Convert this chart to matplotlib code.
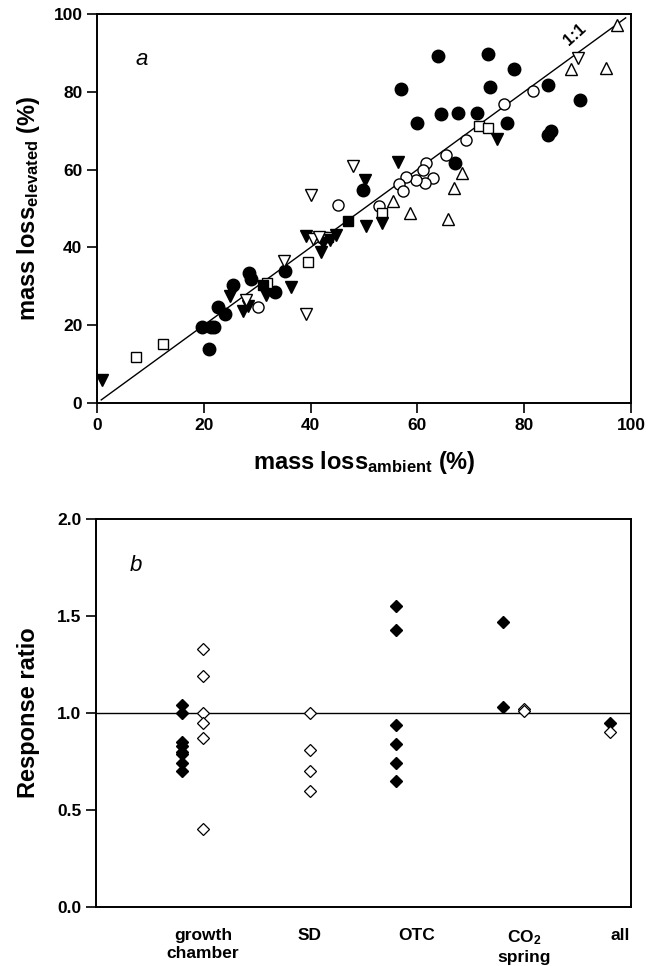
import numpy as np
import matplotlib.pyplot as plt

plt.rcParams['font.family'] = ['Liberation Sans', 'DejaVu Sans']
plt.rcParams['mathtext.default'] = 'regular'

# ---- panel a: mass loss under elevated vs ambient CO2 (%) ----
filled_circle_x = [63.9, 73.3, 78.0, 56.9, 73.6, 84.5, 90.5, 59.9, 64.5, 67.6, 71.2, 76.8,
                   84.5, 85.0, 67.1, 49.8, 35.3, 33.3, 28.5, 28.9, 25.5, 22.6, 23.9, 19.6,
                   21.4, 21.9, 20.9]
filled_circle_y = [89.3, 89.6, 85.9, 80.6, 81.2, 81.8, 77.9, 72.1, 74.3, 74.5, 74.6, 72.1,
                   69.0, 70.0, 61.6, 54.8, 33.9, 28.6, 33.5, 31.8, 30.3, 24.6, 22.9, 19.5,
                   19.6, 19.6, 13.9]

open_circle_x = [81.6, 76.3, 69.1, 65.4, 61.6, 61.0, 62.9, 61.5, 59.8, 57.9, 56.6, 57.4,
                 52.9, 45.1, 30.2]
open_circle_y = [80.3, 76.9, 67.6, 63.8, 61.6, 59.9, 57.8, 56.6, 57.3, 58.2, 56.2, 54.6,
                 50.6, 50.9, 24.6]

open_square_x = [71.6, 73.3, 53.4, 39.6, 42.3, 43.3, 31.9, 12.3, 7.4]
open_square_y = [71.2, 70.6, 48.8, 36.2, 42.7, 42.7, 30.8, 15.2, 11.9]

filled_square_x = [47.0, 31.0]
filled_square_y = [46.9, 30.3]

filled_down_x = [74.9, 56.3, 53.4, 50.1, 50.4, 44.8, 43.6, 42.3, 42.0, 39.2, 36.4, 31.7,
                 28.2, 27.3, 24.9, 0.9]
filled_down_y = [67.8, 61.9, 46.2, 57.3, 45.5, 43.2, 41.9, 41.1, 38.9, 42.9, 29.7, 27.8,
                 25.0, 23.6, 27.5, 5.9]

open_down_x = [90.0, 47.9, 40.1, 40.4, 41.6, 35.0, 39.2, 28.0]
open_down_y = [88.8, 60.8, 53.6, 42.1, 42.6, 36.6, 22.9, 26.6]

open_up_x = [97.4, 88.8, 95.3, 68.3, 66.9, 55.4, 58.7, 65.7]
open_up_y = [97.2, 85.8, 86.0, 59.2, 55.2, 51.9, 48.8, 47.2]

# ---- panel b: response ratios per experiment type ----
categories = ['growth\nchamber', 'SD', 'OTC', 'CO$_2$\nspring', 'all']
filled_ratios = [
    [1.04, 1.00, 0.85, 0.83, 0.80, 0.79, 0.74, 0.70],
    [],
    [1.55, 1.43, 0.94, 0.84, 0.74, 0.65],
    [1.47, 1.03],
    [0.95],
]
open_ratios = [
    [1.33, 1.19, 1.00, 0.95, 0.87, 0.40],
    [1.00, 0.81, 0.70, 0.60],
    [],
    [1.02, 1.01],
    [0.90],
]

fig = plt.figure(figsize=(6.61, 9.66), dpi=100)
ax1 = fig.add_axes([0.1467, 0.5828, 0.8079, 0.4027])
ax2 = fig.add_axes([0.1452, 0.0611, 0.8094, 0.4016])

tick_fs = 12.5
label_fs = 17

for ax in (ax1, ax2):
    for s in ax.spines.values():
        s.set_linewidth(1.4)
    ax.tick_params(direction='out', length=7, width=1.2, labelsize=tick_fs)

# panel a
ax1.plot([0.8, 99], [0.8, 99], color='black', lw=1, zorder=1)
ms = 8
ax1.plot(filled_circle_x, filled_circle_y, 'o', ms=ms + 1, mfc='black', mec='black', ls='none', zorder=3)
ax1.plot(open_circle_x, open_circle_y, 'o', ms=ms, mfc='white', mec='black', mew=1, ls='none', zorder=3)
ax1.plot(open_square_x, open_square_y, 's', ms=ms - 0.5, mfc='white', mec='black', mew=1, ls='none', zorder=3)
ax1.plot(filled_square_x, filled_square_y, 's', ms=ms - 0.5, mfc='black', mec='black', ls='none', zorder=3)
ax1.plot(filled_down_x, filled_down_y, 'v', ms=ms, mfc='black', mec='black', ls='none', zorder=3)
ax1.plot(open_down_x, open_down_y, 'v', ms=ms, mfc='white', mec='black', mew=1, ls='none', zorder=3)
ax1.plot(open_up_x, open_up_y, '^', ms=ms, mfc='white', mec='black', mew=1, ls='none', zorder=3)

ax1.set_xlim(0, 100)
ax1.set_ylim(0, 100)
ax1.set_xticks(np.arange(0, 101, 20))
ax1.set_yticks(np.arange(0, 101, 20))
ax1.set_xticklabels([str(v) for v in range(0, 101, 20)], fontweight='bold', fontsize=tick_fs)
ax1.set_yticklabels([str(v) for v in range(0, 101, 20)], fontweight='bold', fontsize=tick_fs)
ax1.set_xlabel('mass loss$_{ambient}$ (%)', fontsize=label_fs, fontweight='bold', labelpad=12)
ax1.set_ylabel('mass loss$_{elevated}$ (%)', fontsize=label_fs, fontweight='bold', labelpad=8)
ax1.text(8.4, 88.4, 'a', fontsize=16, style='italic', ha='center', va='center')
ax1.text(89.5, 94.8, '1:1', fontsize=12, fontweight='bold', rotation=42, ha='center', va='center')

# panel b
xpos = np.arange(1, len(categories) + 1)
label_pos = list(xpos[:-1]) + [4.9]
ax2.axhline(1.0, color='black', lw=1, zorder=1)
for i, (f, o) in enumerate(zip(filled_ratios, open_ratios)):
    if i == len(categories) - 1:
        fx, ox = xpos[i] - 0.2, xpos[i] - 0.2
    else:
        fx, ox = xpos[i] - 0.2, xpos[i]
    if f:
        ax2.plot([fx] * len(f), f, 'D', ms=6.5, mfc='black', mec='black', ls='none', zorder=3)
    if o:
        ax2.plot([ox] * len(o), o, 'D', ms=6.5, mfc='white', mec='black', mew=0.9, ls='none', zorder=3)

ax2.set_xlim(0, 5)
ax2.set_ylim(0, 2)
ax2.set_yticks([0, 0.5, 1.0, 1.5, 2.0])
ax2.set_yticklabels(['0.0', '0.5', '1.0', '1.5', '2.0'], fontweight='bold', fontsize=tick_fs)
ax2.set_xticks(label_pos)
ax2.set_xticklabels(categories, fontweight='bold', fontsize=tick_fs, linespacing=1.3, va='top')
ax2.tick_params(axis='x', length=0, pad=15)
ax2.set_ylabel('Response ratio', fontsize=label_fs, fontweight='bold', labelpad=12)
ax2.text(0.37, 1.76, 'b', fontsize=16, style='italic', ha='center', va='center')

fig.savefig('out.png', dpi=100)
